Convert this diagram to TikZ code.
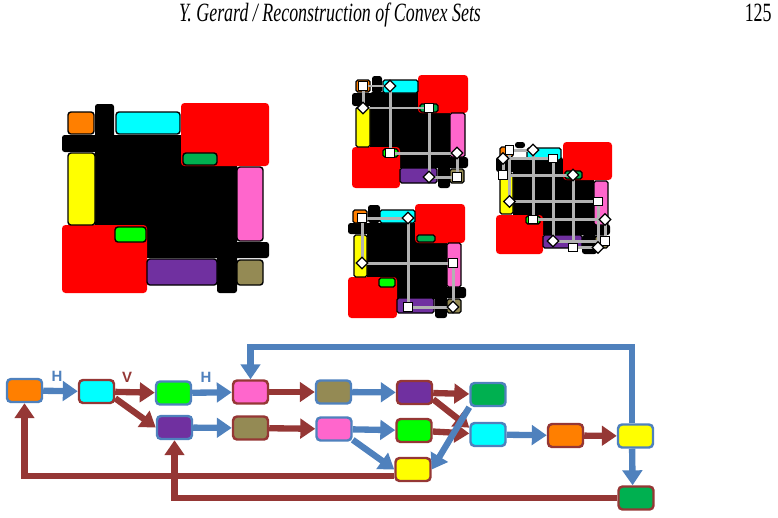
\documentclass[tikz,border=0pt]{standalone}
\usepackage{fontspec}
\setmainfont{Liberation Serif}
\newfontfamily\flowfont{Liberation Sans}
\usepackage{tikz}
\usetikzlibrary{arrows.meta,positioning}
\definecolor{flowB}{HTML}{4F81BD}
\definecolor{flowR}{HTML}{953735}
\definecolor{cOra}{HTML}{FF7F00}
\definecolor{cCya}{HTML}{00FFFF}
\definecolor{cLim}{HTML}{00FF00}
\definecolor{cPur}{HTML}{7030A0}
\definecolor{cPnk}{HTML}{FF66CC}
\definecolor{cOli}{HTML}{948A54}
\definecolor{cGrn}{HTML}{00B050}
\definecolor{cYel}{HTML}{FFFF00}
\definecolor{cRed}{HTML}{FF0000}
\tikzset{
  hdr/.style={font=\fontsize{15}{17}\selectfont,inner sep=0pt},
  blk/.style={draw=black,line width=0.8pt,rounded corners=1.7pt},
  blks/.style={draw=black,line width=0.7pt,rounded corners=1pt},
  gridln/.style={draw=black!30,line width=1.7pt},
  fbox/.style={rectangle,rounded corners=2.3pt,minimum width=7mm,minimum height=4.6mm,
    inner sep=0pt,line width=1.4pt},
  fB/.style={fbox,draw=flowB},
  fR/.style={fbox,draw=flowR},
  aB/.style={draw=flowB,line width=3.6pt,-{Triangle[length=8.5pt,width=11pt]}},
  aR/.style={draw=flowR,line width=3.6pt,-{Triangle[length=8.5pt,width=11pt]}},
  lblB/.style={font=\flowfont\bfseries\fontsize{8.5}{9}\selectfont,text=flowB,inner sep=0pt},
  lblR/.style={font=\flowfont\bfseries\fontsize{8.5}{9}\selectfont,text=flowR,inner sep=0pt}
}
\newcommand{\tile}[5]{\filldraw[blk,fill=#1] (#2,#3) rectangle (#4,#5);}
\newcommand{\tiles}[5]{\filldraw[blks,fill=#1] (#2,#3) rectangle (#4,#5);}
\newcommand{\blot}[4]{\fill[rounded corners=1.5pt] (#1,#2) rectangle (#3,#4);}
\newcommand{\redsq}[4]{\fill[cRed,rounded corners=2pt] (#1,#2) rectangle (#3,#4);}
\newcommand{\sqat}[2]{\filldraw[fill=white,draw=black,line width=0.7pt] (#1-4.3,#2-4.3) rectangle (#1+4.3,#2+4.3);}
\newcommand{\diat}[2]{\filldraw[fill=white,draw=black,line width=0.7pt]
  (#1,#2-5.8) -- (#1+5.8,#2) -- (#1,#2+5.8) -- (#1-5.8,#2) -- cycle;}
\begin{document}
\begin{tikzpicture}[x=0.2mm,y=-0.2mm]
\useasboundingbox (0,0) rectangle (778,517);
% running head
\node[hdr,anchor=base] (title) at (330,21) {\itshape\scalebox{0.68}[1]{Y. Gerard / Reconstruction of Convex Sets}};
\node[hdr,anchor=base east] (page) at (772,21) {\scalebox{0.68}[1]{125}};

% large convex set
\blot{95}{104}{114}{140} \blot{62}{135}{182}{152} \blot{95}{135}{237}{258}
\blot{147}{242}{269}{258} \blot{217}{242}{237}{293}
\redsq{181}{103}{269}{166} \redsq{62}{225}{147}{293}
\tile{cOra}{68}{112}{94}{134} \tile{cCya}{116}{112}{180}{134}
\tile{cGrn}{183}{153}{217}{165} \tile{cYel}{68}{153}{95}{225}
\tile{cLim}{115}{227}{146}{242} \tile{cPnk}{237}{167}{263}{241}
\tile{cPur}{147}{259}{217}{285} \tile{cOli}{237}{260}{263}{285}

% small set, top
\blot{372}{76}{382}{93} \blot{352}{93}{418}{106} \blot{370}{92}{450}{168}
\blot{400}{157}{468}{168} \blot{438}{157}{450}{188}
\redsq{418}{75}{468}{113} \redsq{352}{147}{400}{188}
\tiles{cOra}{356}{80}{370}{92} \tiles{cCya}{383}{80}{418}{93}
\tiles{cGrn}{420}{104}{438}{112} \tiles{cYel}{356}{107}{370}{147}
\tiles{cLim}{383}{149}{398}{157} \tiles{cPnk}{450}{113}{465}{157}
\tiles{cPur}{400}{168}{437}{183} \tiles{cOli}{450}{169}{464}{183}
\draw[gridln] (363,86) -- (390,86) -- (390,153) -- (457,153) -- (457,177)
  -- (429,177) -- (429,108) -- (363,108) -- cycle;
\sqat{363}{86} \sqat{429}{108} \sqat{390}{153} \sqat{457}{177}
\diat{390}{86} \diat{363}{108} \diat{457}{153} \diat{429}{177}

% small set, bottom
\blot{368}{205}{380}{223} \blot{348}{223}{415}{234} \blot{367}{223}{447}{299}
\blot{397}{287}{466}{298} \blot{435}{287}{447}{318}
\redsq{415}{204}{465}{243} \redsq{348}{277}{397}{318}
\tiles{cOra}{353}{210}{367}{223} \tiles{cCya}{380}{210}{415}{223}
\tiles{cGrn}{417}{235}{435}{242} \tiles{cYel}{354}{235}{367}{277}
\tiles{cLim}{379}{278}{395}{287} \tiles{cPnk}{447}{243}{461}{287}
\tiles{cPur}{397}{298}{434}{313} \tiles{cOli}{447}{299}{461}{313}
\draw[gridln] (362,218) -- (408,218) -- (408,307) -- (453,307) -- (453,263)
  -- (362,263) -- cycle;
\sqat{362}{218} \sqat{453}{263} \sqat{408}{307}
\diat{408}{218} \diat{362}{263} \diat{453}{307}

% small set, right
\blot{515}{142}{525}{148} \blot{496}{157}{563}{172} \blot{513}{160}{594}{235}
\blot{543}{224}{610}{235} \blot{582}{235}{597}{254}
\redsq{563}{142}{612}{180} \redsq{496}{215}{543}{254}
\tiles{cOra}{500}{147}{513}{157} \tiles{cCya}{527}{148}{561}{160}
\tiles{cGrn}{565}{171}{582}{179} \tiles{cYel}{500}{173}{513}{214}
\tiles{cLim}{526}{216}{540}{224} \tiles{cPnk}{594}{181}{608}{225}
\tiles{cPur}{543}{235}{582}{248} \tiles{cOli}{595}{236}{608}{248}
\draw[gridln] (509.5,150) -- (533,150) -- (533,219.5) -- (605,219.5) -- (605,241)
  -- (553,241) -- (553,158.5) -- (503,158.5) -- (503,175) -- (573,175)
  -- (573,247.5) -- (598,247.5) -- (598,201.5) -- (509.5,201.5) -- cycle;
\sqat{509.5}{150} \sqat{553}{158.5} \sqat{503}{175} \sqat{598}{201.5}
\sqat{533}{219.5} \sqat{605}{241} \sqat{573}{247.5}
\diat{533}{150} \diat{503}{158.5} \diat{573}{175} \diat{509.5}{201.5}
\diat{605}{219.5} \diat{553}{241} \diat{598}{247.5}

% flow of switches
\node[fB,fill=cOra] (o1) at (24.5,390.5) {};
\node[fR,fill=cCya] (c1) at (96.5,391.5) {};
\node[fB,fill=cLim] (l1) at (173.5,393) {};
\node[fB,fill=cPur] (p1) at (174.5,427.5) {};
\node[fR,fill=cPnk] (k1) at (250.5,392) {};
\node[fR,fill=cOli] (v1) at (250.5,428) {};
\node[fB,fill=cOli] (v2) at (333.5,392) {};
\node[fB,fill=cPnk] (k2) at (334,429) {};
\node[fR,fill=cPur] (p2) at (414.5,392.5) {};
\node[fR,fill=cLim] (l2) at (414,430.5) {};
\node[fR,fill=cYel] (y1) at (413,469.5) {};
\node[fB,fill=cGrn] (g1) at (488,394.5) {};
\node[fB,fill=cCya] (c2) at (488,434.5) {};
\node[fR,fill=cOra] (o2) at (565.5,435.5) {};
\node[fB,fill=cYel] (y2) at (635.5,436) {};
\node[fR,fill=cGrn] (g2) at (636,498) {};

\draw[aB] (o1) -- node[lblB,above=1.3mm,pos=0.4] (hA) {H} (c1);
\draw[aR] (c1) -- node[lblR,above=1.3mm,pos=0.3] (vA) {V} (l1);
\draw[aR] (c1.-20) -- (p1.west);
\draw[aB] (l1) -- node[lblB,above=1.3mm,pos=0.35] (hB) {H} (k1);
\draw[aB] (p1) -- (v1);
\draw[aR] (k1) -- (v2);
\draw[aR] (v1) -- (k2);
\draw[aB] (v2) -- (p2);
\draw[aB] (k2) -- (l2);
\draw[aB] (k2.-30) -- (y1.west);
\draw[aR] (p2) -- (g1);
\draw[aR] (p2.-20) -- (c2.160);
\draw[aR] (l2) -- (c2);
\draw[aB] (g1.south west) -- (y1.east);
\draw[aB] (c2) -- (o2);
\draw[aR] (o2) -- (y2);
\draw[aB] (y2.255) -- (g2.105);
\draw[aB] (y2.105) -- ++(0,-76) -| (k1.north);
\draw[aR] (y1.200) -| (o1.south);
\draw[aR] (g2.west) -| (p1.south);
\end{tikzpicture}
\end{document}
